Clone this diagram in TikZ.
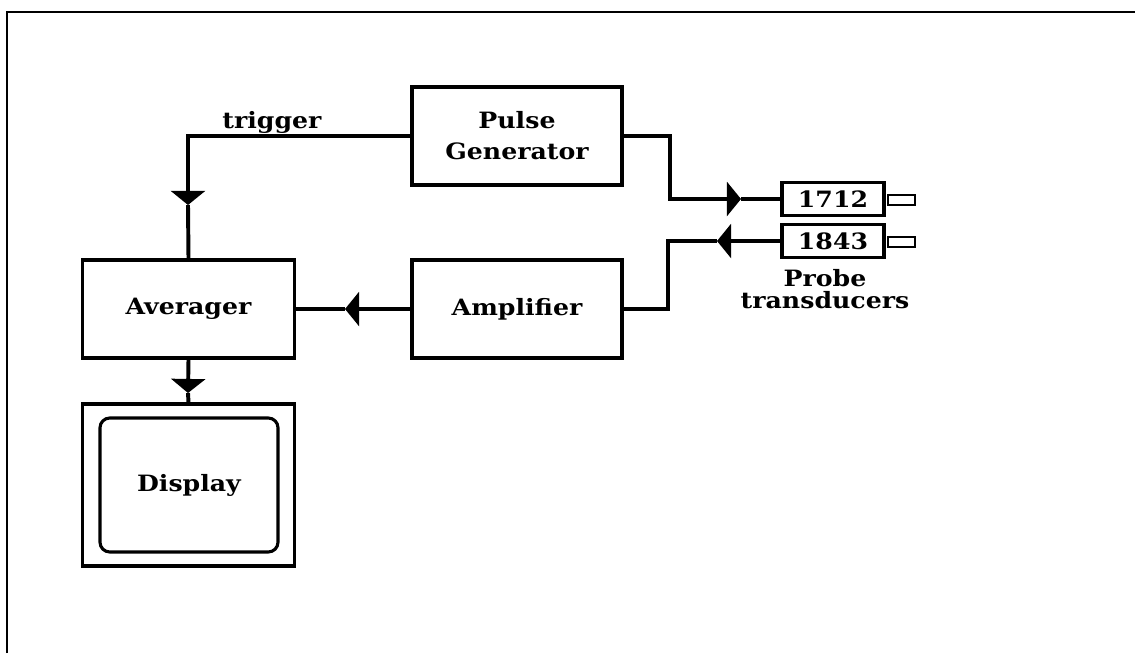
\documentclass[tikz,border=0pt]{standalone}
\usepackage{fontspec}
\setmainfont{DejaVu Serif}[FakeStretch=1.12]
\usetikzlibrary{arrows.meta}

\begin{document}
\begin{tikzpicture}[x=0.025cm, y=-0.025cm,
  font=\fontsize{16}{16}\selectfont\bfseries,
  box/.style={draw, line width=2.2pt, align=center, inner sep=0pt},
  probe/.style={box, minimum width=2.55cm, minimum height=0.84cm},
  plug/.style={draw, line width=1.8pt, minimum width=0.67cm, minimum height=0.25cm, inner sep=0pt},
  wire/.style={line width=2.8pt},
  tip/.style={-{Triangle[length=10pt,width=24pt]}},
]
\useasboundingbox (0,0) rectangle (1135,653);

% Frame
\draw[line width=1.9pt] (7,653) -- (7,12) -- (1135,12);

% Blocks
\node[box, minimum width=5.25cm, minimum height=2.45cm] (pulse) at (517,136) {Pulse\\[6pt]Generator};
\node[box, minimum width=5.25cm, minimum height=2.45cm] (amp) at (517,309) {Amplifier};
\node[box, minimum width=5.32cm, minimum height=2.45cm] (avg) at (188.5,309) {Averager};
\node[box, minimum width=5.32cm, minimum height=4.05cm] (disp) at (188.5,485) {};
\node[box, rounded corners=7pt, minimum width=4.45cm, minimum height=3.35cm] (screen) at (189,485) {Display};

% Probe transducers
\node[probe] (t1712) at (833,199) {1712};
\node[probe] (t1843) at (833,241) {1843};
\node[plug] (plug1712) at (901.5,200) {};
\node[plug] (plug1843) at (901.5,242) {};
\node[align=center] (probelbl) at (825,289) {Probe\\transducers};

% Trigger path
\node (triglbl) at (272,122) {trigger};
\coordinate (trigtip) at (188,205);
\draw[wire, tip] (pulse.west) -| (trigtip);
\draw[wire] (trigtip) -- (avg.north);

% Pulse out
\coordinate (pulsekink) at (670,199);
\coordinate (pulsetip) at (741,199);
\draw[wire, tip] (pulse.east) -| (pulsekink) -- (pulsetip);
\draw[wire] (pulsetip) -- (t1712.west);

% Echo in
\coordinate (echotip) at (717,241);
\coordinate (echokink) at (668,241);
\draw[wire, tip] (t1843.west) -- (echotip);
\draw[wire] (echotip) -- (echokink) |- (amp.east);

% Amplifier to averager
\coordinate (amptip) at (345,309);
\draw[wire, tip] (amp.west) -- (amptip);
\draw[wire] (amptip) -- (avg.east);

% Averager to display
\coordinate (disptip) at (188,393);
\draw[wire, tip] (avg.south) -- (disptip);
\draw[wire] (disptip) -- (disp.north);
\end{tikzpicture}
\end{document}
